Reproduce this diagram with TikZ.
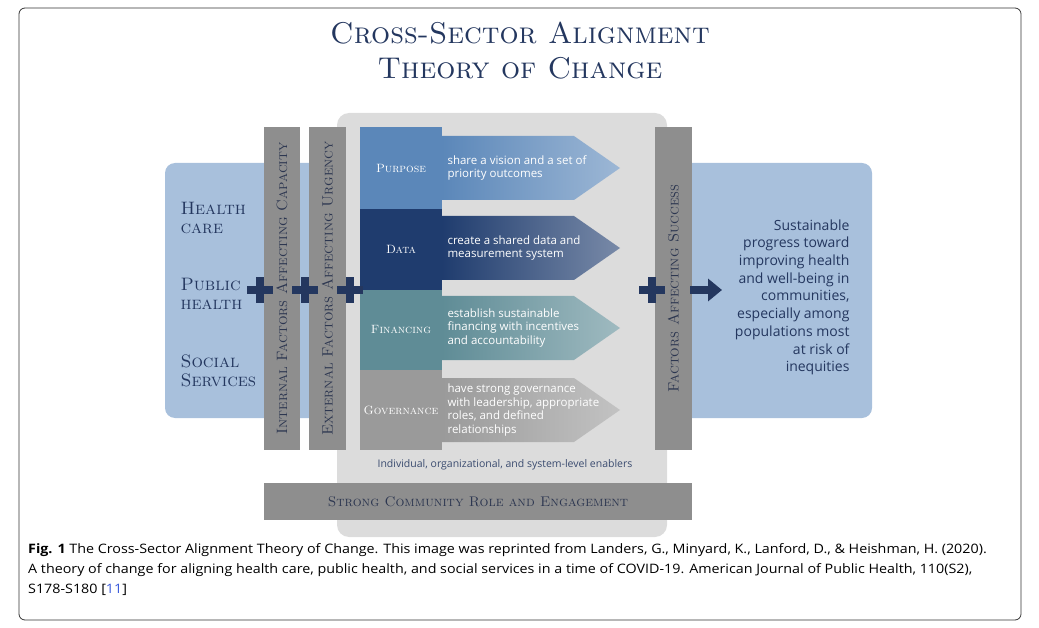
\documentclass[tikz,border=0pt]{standalone}
\usepackage{fontspec}
\newfontfamily\osans{Open Sans}
\usetikzlibrary{shapes.arrows,arrows.meta}
\definecolor{navy}{HTML}{24375F}
\definecolor{lblue}{HTML}{A8C0DC}
\definecolor{panel}{HTML}{DCDCDC}
\definecolor{bar}{HTML}{8E8E8E}
\definecolor{bartxt}{HTML}{2C3650}
\definecolor{cpur}{HTML}{5B87B9}
\definecolor{cdat}{HTML}{1F3C6E}
\definecolor{cfin}{HTML}{5F8C96}
\definecolor{cgov}{HTML}{9A9A9A}
\definecolor{refblue}{HTML}{3B5BDB}
\begin{document}
\begin{tikzpicture}[x=1pt,y=-1pt,
  bartext/.style={text=bartxt,font=\fontsize{15}{15}\selectfont\scshape,rotate=90},
  boxlab/.style={text=white,font=\fontsize{12}{12}\selectfont\scshape},
  arrtxt/.style={text=white,font=\osans\fontsize{11.5}{13.5}\selectfont,align=left,anchor=west},
  side/.style={text=navy,font=\fontsize{18}{19}\selectfont\scshape,align=left,anchor=west}]
\useasboundingbox (0,0) rectangle (1039,628);
\node[draw=black!80,line width=0.8pt,rounded corners=6pt,minimum width=1002pt,minimum height=612pt] (frame) at (520,314) {};
\node[text=navy,font=\fontsize{30}{35}\selectfont\scshape,align=center] (title) at (520,51) {Cross-Sector Alignment\\Theory of Change};
% panels
\fill[lblue,rounded corners=10pt] (165,163) rectangle (345,418);
\fill[lblue,rounded corners=10pt] (680,163) rectangle (872,418);
\fill[panel,rounded corners=12pt] (337,113) rectangle (667,537);
% bars
\node[fill=bar,minimum width=36pt,minimum height=323pt,inner sep=0] (b1) at (282,288.5) {};
\node[fill=bar,minimum width=37pt,minimum height=323pt,inner sep=0] (b2) at (327.5,288.5) {};
\node[fill=bar,minimum width=37pt,minimum height=323pt,inner sep=0] (b3) at (673.5,288.5) {};
\node[bartext] (t1) at (b1) {Internal Factors Affecting Capacity};
\node[bartext] (t2) at (b2) {External Factors Affecting Urgency};
\node[bartext] (t3) at (b3) {Factors Affecting Success};
\node[fill=bar,minimum width=428pt,minimum height=37pt,inner sep=0,text=bartxt,font=\fontsize{14}{14}\selectfont\scshape] (comm) at (478,501.5) {Strong Community Role and Engagement};
% arrows
\foreach \n/\c/\y in {a1/cpur/168, a2/cdat/248, a3/cfin/328, a4/cgov/410}{
  \shade[left color=\c,right color=\c!60!white] (442,\y-32) -- (574,\y-32) -- (620,\y) -- (574,\y+32) -- (442,\y+32) -- cycle;
  \coordinate (\n) at (444,\y);
}
\node[fill=cpur,minimum width=82pt,minimum height=82pt,inner sep=0] (pur) at (401,168) {};
\node[fill=cdat,minimum width=82pt,minimum height=81pt,inner sep=0] (dat) at (401,249.5) {};
\node[fill=cfin,minimum width=82pt,minimum height=80pt,inner sep=0] (fin) at (401,330) {};
\node[fill=cgov,minimum width=82pt,minimum height=80pt,inner sep=0] (gov) at (401,410) {};
\node[boxlab] at (pur) {Purpose};
\node[boxlab] at (dat) {Data};
\node[boxlab] at (fin) {Financing};
\node[boxlab] at (gov) {Governance};
\node[arrtxt] (x1) at (a1) {share a vision and a set of\\priority outcomes};
\node[arrtxt] (x2) at (a2) {create a shared data and\\measurement system};
\node[arrtxt] (x3) at (a3) {establish sustainable\\financing with incentives\\and accountability};
\node[arrtxt] (x4) at (a4) {have strong governance\\with leadership, appropriate\\roles, and defined\\relationships};
\node[text=navy!90,font=\osans\fontsize{10.5}{12}\selectfont] (en) at (505,465) {Individual, organizational, and system-level enablers};
% side labels
\node[side] (hc) at (177,218) {Health\\care};
\node[side] (ph) at (177,294) {Public\\health};
\node[side] (ss) at (177,371) {Social\\Services};
% pluses
\foreach \x in {260,305,350,652}{
  \fill[navy] (\x-13,286) rectangle (\x+13,294);
  \fill[navy] (\x-4,277) rectangle (\x+4,303);
}
\coordinate (out0) at (690,290);
\coordinate (out) at (722,290);
\draw[navy,line width=8pt,-{Triangle[length=14pt,width=22pt]}] (out0) -- (out);
\node[text=navy,font=\osans\fontsize{14}{17.7}\selectfont,align=right,anchor=north east] (res) at (853,216) {Sustainable\\progress toward\\improving health\\and well-being in\\communities,\\especially among\\populations most\\at risk of\\inequities};
% caption
\node[anchor=north west,inner sep=0,align=left,font=\osans\fontsize{13}{20}\selectfont] (cap) at (28,543) {\scalebox{1.1}[1]{\textbf{Fig. 1} The Cross-Sector Alignment Theory of Change. This image was reprinted from Landers, G., Minyard, K., Lanford, D., \& Heishman, H. (2020).}\\
\scalebox{1.1}[1]{A theory of change for aligning health care, public health, and social services in a time of COVID-19. American Journal of Public Health, 110(S2),}\\
\scalebox{1.1}[1]{S178-S180 [{\color{refblue}11}]}};
\end{tikzpicture}
\end{document}
